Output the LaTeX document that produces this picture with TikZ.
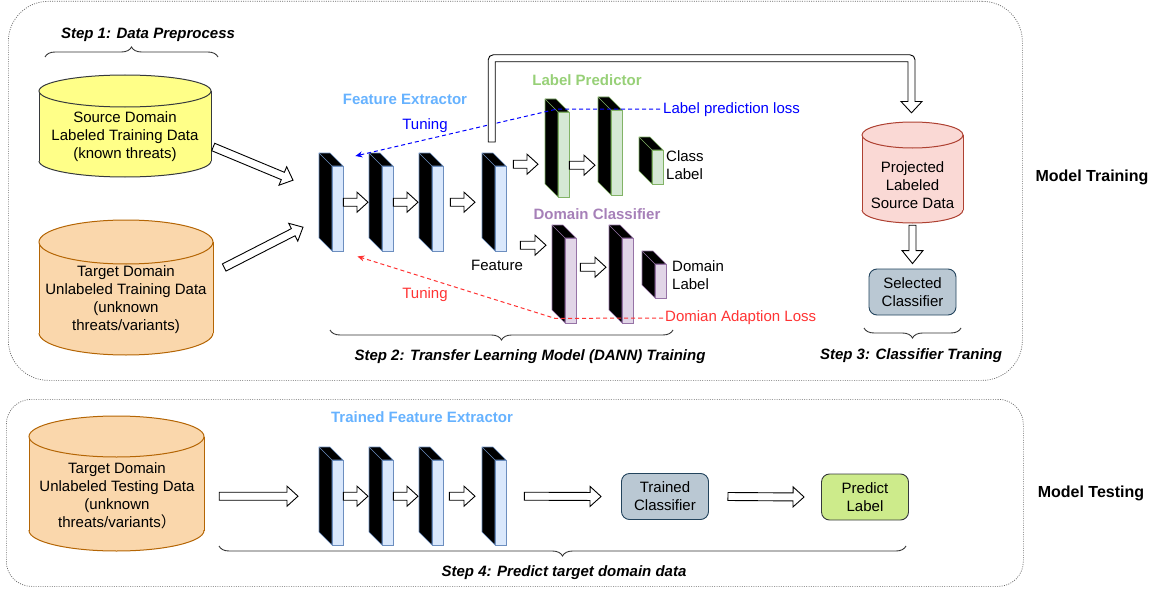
\documentclass[tikz,border=0pt]{standalone}
\usepackage{fontspec}
\setmainfont{Liberation Sans}
\newfontfamily\cjkfont{Noto Sans CJK SC}
\usetikzlibrary{calc,arrows.meta,decorations.pathreplacing}

\definecolor{yelfill}{HTML}{FFFF88}
\definecolor{yelline}{HTML}{36393D}
\definecolor{orafill}{HTML}{FAD7AC}
\definecolor{oraline}{HTML}{B46504}
\definecolor{pinfill}{HTML}{FAD9D5}
\definecolor{pinline}{HTML}{AE4132}
\definecolor{bluface}{HTML}{DAE8FC}
\definecolor{bluline}{HTML}{6C8EBF}
\definecolor{greface}{HTML}{D5E8D4}
\definecolor{greline}{HTML}{82B366}
\definecolor{purface}{HTML}{E1D5E7}
\definecolor{purline}{HTML}{9673A6}
\definecolor{clsfill}{HTML}{BAC8D3}
\definecolor{clsline}{HTML}{23445D}
\definecolor{prdfill}{HTML}{CDEB8B}
\definecolor{prdline}{HTML}{36393D}
\definecolor{fetext}{HTML}{66B2FF}
\definecolor{lptext}{HTML}{97D077}
\definecolor{dctext}{HTML}{A680B8}
\definecolor{losred}{HTML}{FF3333}
\definecolor{panelgray}{HTML}{666666}
\definecolor{bracegray}{HTML}{333333}

\tikzset{
  txt/.style={font=\fontsize{15}{18}\selectfont, align=center, inner sep=0pt},
  steptitle/.style={font=\fontsize{15}{18}\selectfont\bfseries\itshape, inner sep=0pt},
  grouptitle/.style={font=\fontsize{15}{18}\selectfont\bfseries, inner sep=0pt},
  sidetitle/.style={font=\fontsize{16}{19}\selectfont\bfseries, inner sep=0pt},
  panel/.style={draw=panelgray, line width=0.7pt, dash pattern=on 1pt off 1.3pt},
  blockarrow/.style={draw=black, fill=white, line width=0.9pt, line join=miter},
  stepbrace/.style={draw=bracegray, line width=0.9pt, decorate,
    decoration={brace, amplitude=10pt}},
  lossblue/.style={draw=blue, line width=1pt, dash pattern=on 4pt off 3pt,
    -{Stealth[length=7pt,width=6pt]}},
  lossred/.style={draw=losred, line width=1pt, dash pattern=on 4pt off 3pt,
    -{Stealth[length=7pt,width=6pt]}},
  clsbox/.style={rounded corners=8pt, line width=0.9pt, inner sep=0pt,
    minimum width=87pt, minimum height=46pt, align=center,
    font=\fontsize{15}{18}\selectfont},
}

% hollow block arrow between two points
\def\fasw{4pt}\def\fahw{10pt}\def\fahl{11pt}
\newcommand\hollowarrow[2]{%
  \path (#1) coordinate (faS) (#2) coordinate (faE);
  \path ($(faE)!\fahl!(faS)$) coordinate (faH);
  \draw[blockarrow] ($(faS)!\fasw!90:(faE)$) -- ($(faH)!\fasw!90:(faE)$)
    -- ($(faH)!\fahw!90:(faE)$) -- (faE) -- ($(faH)!\fahw!-90:(faE)$)
    -- ($(faH)!\fasw!-90:(faE)$) -- ($(faS)!\fasw!-90:(faE)$) -- cycle;
}

% network layer drawn as a slab: #1 name, #2/#3 back top-left, #4 face height, #5 colour prefix
\newcommand\netlayer[5]{%
  \pgfmathsetmacro\lxa{#2+11}%
  \pgfmathsetmacro\lxb{#2+13}%
  \pgfmathsetmacro\lxc{#2+24}%
  \pgfmathsetmacro\lya{#3+13}%
  \pgfmathsetmacro\lyb{#3+13+#4}%
  \pgfmathsetmacro\lyc{#3+#4}%
  \filldraw[fill=black, draw=#5line, line width=0.6pt, line join=round]
    (#2,#3) -- (\lxa,#3) -- (\lxc,\lya) -- (\lxb,\lya) -- (\lxb,\lyb) -- (#2,\lyc) -- cycle;
  \draw[#5line, line width=0.6pt] (#2,#3) -- (\lxb,\lya);
  \filldraw[fill=#5face, draw=#5line, line width=0.8pt] (\lxb,\lya) rectangle (\lxc,\lyb);
  \node[inner sep=0pt, minimum width=24pt, minimum height={#4+13}, anchor=north west]
    (#1) at (#2,#3) {};
}

% data store drawn as a drum: #1 name, #2 centre x, #3 top, #4 bottom, #5 rx, #6 ry, #7 colour prefix
\newcommand\datadrum[7]{%
  \pgfmathsetmacro\dyt{#3+#6}%
  \pgfmathsetmacro\dyb{#4-#6}%
  \pgfmathsetmacro\dxl{#2-#5}%
  \pgfmathsetmacro\dxr{#2+#5}%
  \fill[#7fill] (\dxl,\dyt) rectangle (\dxr,\dyb);
  \fill[#7fill] (#2,\dyb) ellipse[x radius=#5, y radius=#6];
  \begin{scope}
    \clip (\dxl-2,\dyb) rectangle (\dxr+2,#4+2);
    \draw[#7line, line width=1pt] (#2,\dyb) ellipse[x radius=#5, y radius=#6];
  \end{scope}
  \draw[#7line, line width=1pt] (\dxl,\dyt) -- (\dxl,\dyb) (\dxr,\dyt) -- (\dxr,\dyb);
  \filldraw[fill=#7fill, draw=#7line, line width=1pt] (#2,\dyt) ellipse[x radius=#5, y radius=#6];
  \node[inner sep=0pt, minimum width={2*#5}, minimum height={#4-#3}] (#1) at (#2,{(#3+#4)/2}) {};
}

\begin{document}
\begin{tikzpicture}[x=1pt, y=-1pt]
\useasboundingbox (0,0) rectangle (1168,594);

% ---------------- panels ----------------
\node[panel, rounded corners=40pt, minimum width=1014pt, minimum height=379pt,
      anchor=north west, inner sep=0pt] (trainpanel) at (8,1) {};
\node[panel, rounded corners=25pt, minimum width=1017pt, minimum height=187pt,
      anchor=north west, inner sep=0pt] (testpanel) at (6,399) {};
\node[sidetitle] (trainlbl) at (1092,177) {Model Training};
\node[sidetitle] (testlbl) at (1091,493) {Model Testing};

% ---------------- step 1: data ----------------
\node[steptitle] (s1) at (148,35) {Step 1: Data Preprocess};
\draw[stepbrace] (45,57) -- (218,57);

\datadrum{src}{125}{75}{177}{86}{16}{yel}
\node[txt] (srctxt) at (125,137) {Source Domain\\Labeled Training Data\\(known threats)};

\datadrum{tgt}{126}{220}{355}{87}{22}{ora}
\node[txt] (tgttxt) at (126,300) {Target Domain\\Unlabeled Training Data\\(unknown\\threats/variants)};

% ---------------- step 2: DANN ----------------
\node[grouptitle, text=fetext] (fetitle) at (405,99) {Feature Extractor};
\netlayer{L1}{319}{153}{85}{blu}
\netlayer{L2}{369}{153}{85}{blu}
\netlayer{L3}{419}{153}{85}{blu}
\netlayer{L4}{482}{153}{85}{blu}
\node[txt] (feat) at (497,265) {Feature};

\node[grouptitle, text=lptext] (lptitle) at (587,80) {Label Predictor};
\netlayer{LP1}{545}{99}{85}{gre}
\netlayer{LP2}{598}{97}{85}{gre}
\netlayer{CL}{639}{137}{34}{gre}
\node[txt, anchor=west, align=left] (cltxt) at (666,165) {Class\\Label};

\node[grouptitle, text=dctext] (dctitle) at (597,214) {Domain Classifier};
\netlayer{DC1}{552}{225}{85}{pur}
\netlayer{DC2}{609}{225}{85}{pur}
\netlayer{DL}{642}{251}{34}{pur}
\node[txt, anchor=west, align=left] (dltxt) at (672,275) {Domain\\Label};

% data into the feature extractor
\hollowarrow{$(src.east)+(2,21)$}{$(L1.west)+(-26,-22)$}
\hollowarrow{$(tgt.east)+(11,-20)$}{$(L1.west)+(-16,25)$}

% forward pass
\hollowarrow{L1.east}{$(L2.west)+(-1,0)$}
\hollowarrow{L2.east}{$(L3.west)+(-1,0)$}
\hollowarrow{$(L3.east)+(7,0)$}{$(L4.west)+(-7,0)$}
\coordinate (lpin) at ($(L4.east)+(7,-38)$);
\hollowarrow{lpin}{$(lpin -| LP1.west)+(-7,0)$}
\coordinate (dcin) at ($(L4.east)+(14,43)$);
\hollowarrow{dcin}{$(dcin -| DC1.west)+(-6,0)$}
\coordinate (lpmid) at ($(LP1.east)+(0,17)$);
\hollowarrow{lpmid}{$(lpmid -| LP2.west)+(-3,0)$}
\coordinate (dcmid) at ($(DC1.east)+(4,-7)$);
\hollowarrow{dcmid}{$(dcmid -| DC2.west)+(-3,0)$}

% losses fed back for tuning
\node[txt, anchor=west, text=blue] (lploss) at (663,110) {Label prediction loss};
\node[txt, anchor=west, text=losred] (daloss) at (665,318) {Domian Adaption Loss};
\draw[lossblue] ($(lploss.west)+(-3,-1)$) -- ($(LP1.north)+(0,10)$) -- ($(L1.north east)+(12,3)$);
\draw[lossred] ($(daloss.west)+(-2,0)$) -- ($(DC1.south west)+(3,-5)$) -- ($(L1.south east)+(14,5)$);
\node[txt, text=blue] (tuneb) at (425,126) {Tuning};
\node[txt, text=losred] (tuner) at (425,295) {Tuning};

\draw[stepbrace] (673,330) -- (330,330);
\node[steptitle] (s2) at (530,357) {Step 2: Transfer Learning Model (DANN) Training};

% ---------------- step 3: classifier ----------------
\datadrum{proj}{912.5}{122}{223}{50.5}{13}{pin}
\node[txt] (projtxt) at (912.5,185) {Projected\\Labeled\\Source Data};
\node[clsbox, fill=clsfill, draw=clsline] (sel) at (912.5,292) {Selected\\Classifier};

\path ($(L4.north)+(-2.5,-11)$) coordinate (bigS) ($(proj.north)+(-1,-9)$) coordinate (bigE);
\draw[blockarrow] let \p1=(bigS), \p2=(bigE) in
  (\x1-3.5pt,\y1) [rounded corners=5pt] -- (\x1-3.5pt,\y2+58pt) -- (\x2+3.5pt,\y2+58pt)
  [sharp corners] -- (\x2+3.5pt,\y2+11.3pt) -- (\x2+10.5pt,\y2+11.3pt) -- (\x2,\y2)
  -- (\x2-10.5pt,\y2+11.3pt) -- (\x2-3.5pt,\y2+11.3pt) -- (\x2-3.5pt,\y2+51pt)
  -- (\x1+3.5pt,\y2+51pt) -- (\x1+3.5pt,\y1) -- cycle;

{\def\fasw{3.5pt}\def\fahw{10.5pt}\def\fahl{13pt}%
 \hollowarrow{$(proj.south)+(0,2)$}{$(sel.north)+(0,-5)$}}

\draw[stepbrace] (961,328) -- (864,328);
\node[steptitle] (s3) at (911,356) {Step 3: Classifier Traning};

% ---------------- step 4: testing ----------------
\datadrum{ttst}{116.5}{416}{551}{87.5}{20.5}{ora}
\node[txt] (ttsttxt) at (117,495.5) {Target Domain\\Unlabeled Testing Data\\(unknown\\threats/variants{\cjkfont ）}};

\node[grouptitle, text=fetext] (tfetitle) at (422,417) {Trained Feature Extractor};
\netlayer{B1}{319}{447}{85}{blu}
\netlayer{B2}{369}{447}{85}{blu}
\netlayer{B3}{419}{447}{85}{blu}
\netlayer{B4}{482}{447}{85}{blu}

\node[clsbox, fill=clsfill, draw=clsline] (tcls) at (665,496.5) {Trained\\Classifier};
\node[clsbox, fill=prdfill, draw=prdline] (pred) at (865,497) {Predict\\Label};

\hollowarrow{$(ttst.east |- B1.west)+(15,0)$}{$(B1.west)+(-21,0)$}
\hollowarrow{B1.east}{$(B2.west)+(-1,0)$}
\hollowarrow{B2.east}{$(B3.west)+(-1,0)$}
\hollowarrow{$(B3.east)+(6,0)$}{$(B4.west)+(-7,0)$}
\hollowarrow{$(B4.east)+(18,0)$}{$(tcls.west)+(-20,0)$}
\hollowarrow{$(tcls.east)+(19,0)$}{$(pred.west)+(-17,0)$}

\draw[stepbrace] (906,546) -- (219,546);
\node[steptitle] (s4) at (564,573) {Step 4: Predict target domain data};

\end{tikzpicture}
\end{document}
